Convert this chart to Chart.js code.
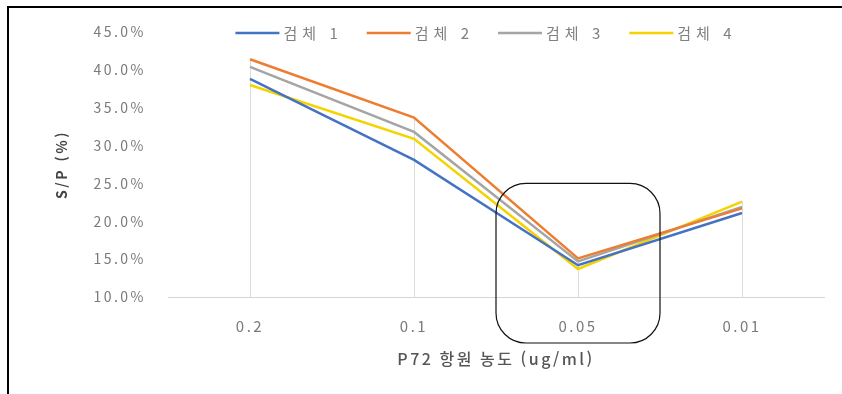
<!DOCTYPE html>
<html lang="ko">
<head>
<meta charset="utf-8">
<title>P72 항원 농도별 S/P</title>
<script src="https://cdn.jsdelivr.net/npm/chart.js@4/dist/chart.umd.min.js"></script>
<style>
  html, body { margin: 0; padding: 0; background: #fff; }
  #wrap { position: relative; width: 842px; height: 394px; overflow: hidden; }
  #wrap canvas { position: absolute; left: 0; top: 0; }
  #frame {
    position: absolute; left: 7px; top: 6px; right: -10px; bottom: -10px;
    border-left: 2px solid #000; border-top: 2px solid #000;
    pointer-events: none;
  }
</style>
</head>
<body>
<div id="wrap">
  <canvas id="chart" width="842" height="394"></canvas>
  <div id="frame"></div>
</div>
<script>
// Antigen concentrations (ug/ml), in the order they are plotted
const concentrations = ['0.2', '0.1', '0.05', '0.01'];

// S/P (%) per sample
const sample1 = [38.8, 28.1, 14.2, 21.1];
const sample2 = [41.4, 33.7, 15.1, 21.7];
const sample3 = [40.4, 31.8, 14.7, 21.9];
const sample4 = [38.0, 30.9, 13.7, 22.6];

const seriesNames = ['검체 1', '검체 2', '검체 3', '검체 4'];
const seriesColors = ['#4472C4', '#ED7D31', '#A5A5A5', '#F5D300'];

// y axis range and step (%)
const yMin = 10;
const yMax = 45;
const yStep = 5;

// category that is circled, and the value where the circle starts
const highlightCategory = '0.05';
const highlightTopValue = 25;

const allSeries = [sample1, sample2, sample3, sample4];

const font = "'Noto Sans CJK KR', 'Noto Sans', sans-serif";
const textSpacing = '2.5px';

// Wide letter spacing for every text drawn on the canvas
const spacedText = {
  id: 'spacedText',
  beforeUpdate(chart) { chart.ctx.letterSpacing = textSpacing; },
  beforeDraw(chart) { chart.ctx.letterSpacing = textSpacing; }
};

// Vertical drop lines from the highest point of each category down to the axis
const dropLines = {
  id: 'dropLines',
  beforeDatasetsDraw(chart) {
    const { ctx, chartArea, scales: { x, y } } = chart;
    ctx.save();
    ctx.strokeStyle = '#dcdcdc';
    ctx.lineWidth = 1;
    concentrations.forEach((c, i) => {
      const top = Math.max(...allSeries.map(s => s[i]));
      const px = Math.round(x.getPixelForValue(i)) + 0.5;
      ctx.beginPath();
      ctx.moveTo(px, y.getPixelForValue(top));
      ctx.lineTo(px, chartArea.bottom);
      ctx.stroke();
    });
    ctx.restore();
  }
};

// Legend row drawn across the top of the plot, in line with the top tick
const lineLegend = {
  id: 'lineLegend',
  afterDraw(chart) {
    const { ctx, chartArea } = chart;
    const lineLen = 44, gap = 4, itemGap = 24;
    ctx.save();
    ctx.font = `15px ${font}`;
    ctx.letterSpacing = '5px';
    ctx.textBaseline = 'middle';
    const items = chart.data.datasets.map(ds => ({
      label: ds.label,
      color: ds.borderColor,
      w: lineLen + gap + ctx.measureText(ds.label).width
    }));
    const total = items.reduce((a, it) => a + it.w, 0) + itemGap * (items.length - 1);
    let x = (chartArea.left + chartArea.right) / 2 - 10 - total / 2;
    const y = chartArea.top + 1;
    items.forEach(it => {
      ctx.strokeStyle = it.color;
      ctx.lineWidth = 2.5;
      ctx.beginPath();
      ctx.moveTo(x, y);
      ctx.lineTo(x + lineLen, y);
      ctx.stroke();
      ctx.fillStyle = '#808080';
      ctx.fillText(it.label, x + lineLen + gap, y);
      x += it.w + itemGap;
    });
    ctx.restore();
  }
};

// Rounded box around one category column
const highlightBox = {
  id: 'highlightBox',
  afterDraw(chart) {
    const { ctx, chartArea, scales: { x, y } } = chart;
    const idx = concentrations.indexOf(highlightCategory);
    const half = x.width / concentrations.length / 2;
    const cx = x.getPixelForValue(idx);
    const left = cx - half;
    const right = cx + half;
    const top = y.getPixelForValue(highlightTopValue);
    const bottom = chartArea.bottom + 46;
    ctx.save();
    ctx.strokeStyle = '#111';
    ctx.lineWidth = 1.2;
    ctx.beginPath();
    ctx.roundRect(left, top, right - left, bottom - top, 30);
    ctx.stroke();
    ctx.restore();
  }
};

new Chart(document.getElementById('chart'), {
  type: 'line',
  data: {
    labels: concentrations,
    datasets: allSeries.map((values, i) => ({
      label: seriesNames[i],
      data: values,
      borderColor: seriesColors[i],
      backgroundColor: seriesColors[i],
      borderWidth: 2.5,
      pointRadius: 0,
      tension: 0
    }))
  },
  options: {
    responsive: false,
    animation: false,
    layout: { padding: { top: 32, right: 18, bottom: 0, left: 0 } },
    plugins: {
      tooltip: { enabled: false },
      legend: { display: false }
    },
    scales: {
      x: {
        offset: true,
        grid: { display: false, drawTicks: false },
        border: { display: true, color: '#d6d6d6', width: 1 },
        ticks: { color: '#7a7a7a', padding: 20, font: { family: font, size: 15 } },
        title: {
          display: true,
          text: 'P72 항원 농도 (ug/ml)',
          color: '#555',
          font: { family: font, size: 16, weight: '500' },
          padding: { top: 0, bottom: 25 }
        },
        afterFit(scale) { scale.height = 97; }
      },
      y: {
        min: yMin,
        max: yMax,
        grid: { display: false, drawTicks: false },
        border: { display: false },
        ticks: {
          stepSize: yStep,
          color: '#7a7a7a',
          padding: 22,
          font: { family: font, size: 14 },
          callback: v => v.toFixed(1) + '%'
        },
        title: {
          display: true,
          text: 'S/P (%)',
          color: '#444',
          font: { family: font, size: 14, weight: 'bold' },
          padding: { top: 53, bottom: 0 }
        },
        afterFit(scale) { scale.width = 168; }
      }
    }
  },
  plugins: [spacedText, dropLines, lineLegend, highlightBox]
});
</script>
</body>
</html>
